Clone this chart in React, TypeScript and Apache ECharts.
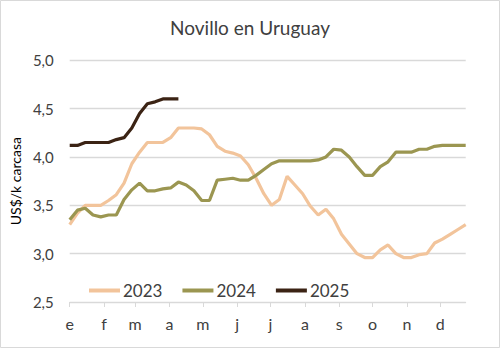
import React, { useEffect, useRef } from "react";
import * as echarts from "echarts";

const monthLabels = ["e", "f", "m", "a", "m", "j", "j", "a", "s", "o", "n", "d"];
const monthStartDays = [0, 31, 59, 90, 120, 151, 181, 212, 243, 273, 304, 334];
const yTicks = [2.5, 3.0, 3.5, 4.0, 4.5, 5.0];

const v2023 = [
  3.30, 3.42, 3.50, 3.50, 3.50, 3.55, 3.61, 3.73, 3.93, 4.05,
  4.15, 4.15, 4.15, 4.20, 4.30, 4.30, 4.30, 4.29, 4.23, 4.11,
  4.06, 4.04, 4.01, 3.92, 3.78, 3.62, 3.50, 3.56, 3.80, 3.71,
  3.62, 3.49, 3.40, 3.46, 3.36, 3.20, 3.10, 3.00, 2.96, 2.96,
  3.04, 3.09, 3.00, 2.96, 2.96, 2.99, 3.00, 3.11, 3.15, 3.20,
  3.25, 3.30,
];
const v2024 = [
  3.35, 3.45, 3.47, 3.40, 3.38, 3.40, 3.40, 3.56, 3.66, 3.73,
  3.65, 3.65, 3.67, 3.68, 3.74, 3.71, 3.65, 3.55, 3.55, 3.76,
  3.77, 3.78, 3.76, 3.76, 3.81, 3.87, 3.93, 3.96, 3.96, 3.96,
  3.96, 3.96, 3.97, 4.00, 4.08, 4.07, 4.00, 3.90, 3.81, 3.81,
  3.90, 3.95, 4.05, 4.05, 4.05, 4.08, 4.08, 4.11, 4.12, 4.12,
  4.12, 4.12,
];
const v2025 = [
  4.12, 4.12, 4.15, 4.15, 4.15, 4.15, 4.18, 4.20, 4.30, 4.45,
  4.55, 4.57, 4.60, 4.60, 4.60,
];

const seriesDefs = [
  { name: "2023", data: v2023, color: "#F2C49B" },
  { name: "2024", data: v2024, color: "#9B9651" },
  { name: "2025", data: v2025, color: "#3B2314" },
];

const FONT = "Lato, 'Open Sans', sans-serif";
const TXT = "#404040";

export default function App() {
  const ref = useRef<HTMLDivElement>(null);
  useEffect(() => {
    document.body.style.margin = "0";
    const chart = echarts.init(ref.current!, null, { renderer: "svg" });
    chart.setOption({
      animation: false,
      backgroundColor: "#ffffff",
      title: {
        text: "Novillo en Uruguay",
        left: "center",
        top: 13,
        textStyle: { fontFamily: FONT, fontSize: 19, fontWeight: "normal", color: TXT },
      },
      graphic: [
        {
          type: "rect",
          shape: { x: 0.5, y: 0.5, width: 499, height: 347 },
          style: { fill: "none", stroke: "#D9D9D9", lineWidth: 1 },
          silent: true,
        },
      ],
      grid: { left: 66.7, right: 34.3, top: 60.3, bottom: 46 },
      legend: {
        left: 89,
        top: 282,
        padding: 0,
        itemGap: 20,
        itemWidth: 31,
        itemHeight: 4,
        icon: "rect",
        textStyle: { fontFamily: FONT, fontSize: 17, color: TXT, padding: [0, 0, 0, -2] },
        data: seriesDefs.map((s) => s.name),
      },
      xAxis: {
        type: "value",
        min: 0,
        max: 357,
        axisLine: { show: true, lineStyle: { color: "#D9D9D9", width: 1 } },
        axisTick: { show: true, customValues: monthStartDays, length: 5, lineStyle: { color: "#D9D9D9" } },
        axisLabel: {
          customValues: monthStartDays,
          formatter: (v: number) => {
            const i = monthStartDays.indexOf(Math.round(v));
            return i >= 0 ? monthLabels[i] : "";
          },
          margin: 13,
          fontFamily: FONT,
          fontSize: 16,
          color: TXT,
        },
        splitLine: { show: false },
      },
      yAxis: {
        type: "value",
        min: 2.5,
        max: 5.0,
        interval: 0.5,
        name: "US$/k carcasa",
        nameLocation: "middle",
        nameRotate: 90,
        nameGap: 44,
        nameTextStyle: { fontFamily: FONT, fontSize: 14, color: "#000000" },
        axisLine: { show: false },
        axisTick: { show: false },
        axisLabel: {
          margin: 16,
          fontFamily: FONT,
          fontSize: 15,
          color: TXT,
          formatter: (v: number) => {
            const t = yTicks.find((x) => Math.abs(x - v) < 1e-6);
            return (t ?? v).toFixed(1).replace(".", ",");
          },
        },
        splitLine: { show: true, lineStyle: { color: "#D9D9D9", width: 1.3 } },
      },
      series: seriesDefs.map((s) => ({
        name: s.name,
        type: "line",
        data: s.data.map((v, i) => [i * 7, v]),
        showSymbol: false,
        symbol: "none",
        color: s.color,
        lineStyle: { color: s.color, width: 3.2 },
        itemStyle: { color: s.color },
        z: 3,
      })),
    });
    return () => chart.dispose();
  }, []);
  return (
    <div style={{ position: "absolute", left: 0, top: 0, width: 500, height: 348, background: "#fff" }}>
      <div ref={ref} style={{ width: 500, height: 348 }} />
    </div>
  );
}
